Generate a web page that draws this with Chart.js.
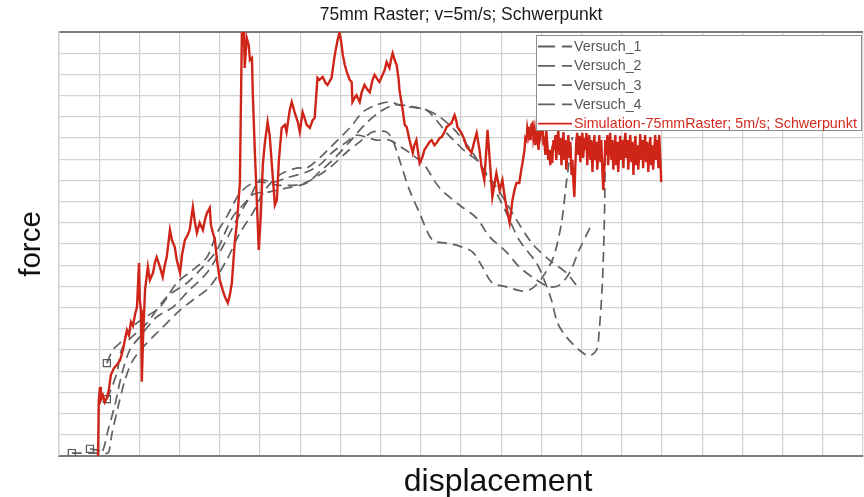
<!DOCTYPE html>
<html>
<head>
<meta charset="utf-8">
<script src="https://cdn.jsdelivr.net/npm/chart.js@4/dist/chart.umd.min.js"></script>
<style>
  html, body { margin: 0; padding: 0; background: #ffffff; }
  canvas { display: block; }
</style>
</head>
<body>
<canvas id="chart" width="864" height="497"></canvas>
<script>
// Texts
const chartTitle = '75mm Raster; v=5m/s; Schwerpunkt';
const xAxisTitle = 'displacement';
const yAxisTitle = 'force';
const seriesNames = ['Versuch_1', 'Versuch_2', 'Versuch_3', 'Versuch_4',
                     'Simulation-75mmRaster; 5m/s; Schwerpunkt'];

// Axis ranges (no tick labels are shown, only the grid)
const xRange = [0, 200];
const yRange = [0, 100];
const xStep = 10;
const yStep = 5;

// Test curves: [displacement, force]
const versuch1 = [[3.2,0.7],[8.9,0.7],[10.7,0.9],[12.2,6.1],[13.9,12.0],[15.7,19.6],[17.6,25.0],[20.1,28.1],[24.3,32.8],[28.3,35.1],[32.5,39.2],[36.8,43.2],[40.7,49.3],[44.2,55.7],[48.2,61.6],[52.4,62.3],[56.6,63.2],[61.6,64.4],[64.8,67.0],[68.6,70.3],[72.3,74.1],[76.0,78.1],[79.7,81.1],[83.5,82.8],[87.2,82.5],[91.4,81.6],[94.7,80.0],[98.4,76.9],[102.1,72.6],[107.1,65.1],[111.3,57.3],[114.5,50.9],[118.8,45.5],[120.7,41.5],[122.5,36.8],[124.0,31.4],[126.2,28.1],[129.4,25.0],[131.9,23.6],[133.7,25.0],[134.4,29.7],[135.2,41.5],[135.7,57.3],[135.9,74.5]];

const versuch2 = [[7.7,1.7],[10.2,1.2],[12.2,0.7],[13.2,5.4],[14.7,11.6],[16.4,17.9],[18.4,22.6],[21.9,26.7],[25.1,29.7],[29.3,33.7],[33.3,36.8],[37.5,39.9],[41.7,46.2],[45.0,52.6],[48.2,57.3],[51.2,62.7],[54.9,66.3],[59.1,67.9],[61.6,67.9],[64.8,70.3],[67.3,72.6],[70.6,75.7],[73.0,78.1],[75.5,81.1],[79.0,82.8],[82.2,83.5],[85.5,82.5],[88.9,82.1],[91.4,81.6],[93.9,79.2],[96.4,76.2],[98.9,73.8],[101.4,71.5],[103.9,69.8],[106.3,66.7],[108.8,63.4],[111.3,59.7],[113.8,55.7],[117.8,50.0],[122.0,46.2],[126.2,43.2],[128.7,40.3]];

const versuch3 = [[11.9,21.9],[13.4,25.0],[15.2,26.7],[19.4,31.4],[25.1,35.1],[29.3,40.8],[33.3,43.9],[36.8,46.9],[39.3,52.6],[41.7,56.4],[45.0,62.0],[48.2,64.4],[50.7,64.6],[54.2,63.9],[59.1,63.9],[61.6,64.6],[64.8,66.3],[68.1,68.6],[71.6,71.7],[74.8,74.1],[78.0,76.4],[81.5,76.4],[83.0,74.5],[84.7,69.8],[87.2,62.7],[89.7,57.3],[92.9,50.9],[96.4,50.2],[99.6,49.5],[102.9,48.1],[105.3,44.6],[107.8,40.8],[111.3,39.9],[115.3,38.9],[117.8,39.6],[120.3,42.2],[123.0,46.9],[125.0,55.0],[126.2,64.4],[127.7,75.2]];

const versuch4 = [[11.9,13.4],[13.2,16.3],[14.4,19.6],[15.9,25.7],[21.9,31.4],[26.8,37.5],[31.8,40.8],[35.8,44.6],[39.3,48.6],[43.2,56.4],[47.5,61.1],[49.9,65.1],[53.2,64.6],[56.6,65.6],[61.6,67.0],[64.8,68.6],[68.1,71.7],[71.6,74.1],[74.0,75.7],[79.0,74.5],[82.2,74.5],[85.5,72.6],[88.0,71.0],[90.9,68.6],[94.7,63.2],[99.6,59.2],[103.9,56.1],[107.1,51.7],[111.3,48.1],[114.5,44.6],[118.8,41.5],[122.0,39.9],[124.5,40.3],[127.0,43.2],[129.4,48.6],[132.7,55.0]];

// Simulation curve: [displacement, force]
const simulation = [[9.7,0.0],[9.9,13.2],[10.2,16.3],[10.4,13.2],[10.9,14.4],[11.4,12.7],[11.9,13.7],[12.4,15.6],[12.9,19.1],[13.7,20.8],[14.4,21.5],[15.2,22.6],[15.9,25.0],[16.4,27.4],[16.9,29.7],[17.4,28.5],[17.9,31.6],[18.4,30.7],[18.9,33.3],[19.4,35.1],[19.9,45.5],[20.1,36.8],[20.4,34.4],[20.6,17.5],[20.9,27.4],[21.4,39.2],[22.1,44.6],[22.6,41.5],[23.4,43.2],[23.9,45.8],[24.3,46.9],[25.1,44.6],[25.8,42.2],[26.3,45.0],[26.8,46.9],[27.6,53.3],[28.1,50.9],[28.8,49.3],[29.3,46.2],[30.1,43.2],[30.6,47.4],[31.3,50.9],[32.0,52.1],[32.5,53.3],[33.3,58.7],[33.8,55.2],[34.3,52.6],[35.0,55.0],[35.8,53.3],[36.3,55.7],[36.8,57.3],[37.5,58.5],[37.8,54.5],[38.3,52.6],[38.8,50.9],[39.3,46.2],[40.0,41.5],[40.7,39.2],[41.2,37.7],[42.0,36.1],[42.5,38.0],[43.0,40.8],[43.7,50.2],[44.2,54.5],[44.5,58.0],[45.0,64.4],[45.2,79.2],[45.5,100.0],[46.0,100.0],[46.2,91.5],[46.7,98.6],[47.2,96.9],[47.5,93.4],[48.0,93.9],[48.2,85.8],[48.7,72.2],[49.2,60.4],[49.7,48.6],[50.2,56.8],[50.7,68.6],[51.2,73.8],[51.9,78.8],[52.4,75.7],[53.2,65.6],[53.7,59.2],[54.2,60.4],[54.7,69.8],[55.4,77.4],[56.2,78.1],[56.6,76.4],[57.4,81.6],[57.9,83.5],[58.6,81.1],[59.4,78.8],[59.9,76.4],[60.6,81.1],[61.1,79.7],[61.6,78.1],[62.4,77.4],[63.1,79.2],[63.6,79.7],[64.3,89.2],[64.8,88.7],[65.6,89.4],[66.3,88.0],[66.8,87.5],[67.8,89.2],[68.6,94.6],[69.3,98.1],[69.8,100.0],[70.3,96.9],[70.6,94.6],[71.1,92.2],[71.6,90.6],[72.3,88.7],[72.8,88.2],[73.0,83.5],[73.5,84.4],[74.0,85.1],[74.8,83.5],[75.3,85.8],[76.0,87.5],[76.8,86.3],[77.3,85.8],[78.0,88.7],[78.5,89.9],[79.3,88.7],[79.7,88.2],[80.5,89.9],[81.0,91.0],[81.5,92.9],[82.2,91.5],[82.7,93.9],[83.0,95.0],[83.5,93.4],[84.0,92.2],[84.5,88.7],[84.7,86.3],[85.5,81.6],[86.0,78.1],[86.5,77.6],[87.2,74.5],[88.0,71.5],[88.4,73.3],[88.9,74.5],[89.7,69.1],[90.4,70.5],[90.9,72.2],[91.4,72.9],[92.2,74.1],[92.7,74.5],[93.4,73.3],[93.9,73.8],[94.7,75.0],[95.2,75.2],[95.9,76.4],[96.4,77.6],[97.1,78.1],[97.6,78.5],[98.4,80.4],[98.9,78.8],[99.1,77.6],[100.1,76.2],[100.9,74.5],[101.4,72.9],[102.1,72.2],[102.6,71.5],[103.4,74.5],[103.9,76.2],[104.6,72.2],[105.1,68.2],[105.8,65.1],[106.3,72.2],[106.6,76.9],[107.1,70.5],[107.8,61.1],[108.3,63.9],[108.8,66.7],[109.6,62.7],[110.3,65.1],[110.8,61.6],[111.3,58.7],[112.1,55.0],[112.5,58.0],[112.8,60.4],[113.3,62.7],[113.8,64.4],[114.5,64.4],[115.0,67.5],[115.3,69.1],[115.8,72.2],[116.0,75.0],[116.3,74.5],[116.5,77.4],[116.8,75.7],[117.0,77.6],[117.3,74.5],[117.5,78.1],[117.8,78.5],[118.0,75.0],[118.3,76.9],[118.5,73.3],[118.8,76.9],[119.0,75.2],[119.3,72.2],[119.5,77.4],[119.8,75.7],[120.0,78.1],[120.3,77.6],[120.5,74.1],[120.7,74.5],[121.0,71.0],[121.2,76.9],[121.5,73.3],[121.7,69.8],[122.0,72.2],[122.2,68.6],[122.5,71.0],[122.7,69.1],[123.0,74.5],[123.2,72.2],[123.5,75.7],[123.7,69.8],[124.0,74.5],[124.2,76.9],[124.5,71.0],[124.7,75.0],[125.0,68.6],[125.2,73.3],[125.5,76.4],[125.7,69.8],[126.0,74.5],[126.2,67.5],[126.5,72.2],[126.7,75.7],[127.0,70.3],[127.2,74.1],[127.5,66.3],[127.7,69.8],[128.0,63.9],[128.2,61.1],[128.4,67.5],[128.7,74.5],[128.9,76.2],[129.2,71.0],[129.4,75.5],[129.7,69.3],[129.9,74.5],[130.2,76.2],[130.4,70.3],[130.7,75.0],[130.9,72.2],[131.2,76.2],[131.4,68.6],[131.7,73.3],[131.9,75.7],[132.2,69.8],[132.4,74.5],[132.7,67.0],[132.9,72.2],[133.2,75.7],[133.4,69.8],[133.7,74.1],[133.9,67.5],[134.2,72.6],[134.4,75.7],[134.7,69.3],[134.9,74.5],[135.2,66.3],[135.4,62.7],[135.7,68.6],[135.9,74.5],[136.2,71.0],[136.4,75.7],[136.6,68.6],[136.9,73.3],[137.1,76.2],[137.4,69.8],[137.6,74.5],[137.9,67.5],[138.1,72.2],[138.4,75.7],[138.6,68.6],[138.9,74.1],[139.1,67.0],[139.4,72.2],[139.6,75.5],[139.9,69.8],[140.1,74.5],[140.4,67.9],[140.6,73.3],[140.9,76.2],[141.1,70.3],[141.4,74.5],[141.6,67.5],[141.9,72.2],[142.1,75.7],[142.4,69.3],[142.6,74.1],[142.9,66.3],[143.1,72.2],[143.4,75.5],[143.6,68.6],[143.9,73.3],[144.1,67.5],[144.4,72.2],[144.6,75.9],[144.8,69.8],[145.1,74.5],[145.3,67.9],[145.6,72.6],[145.8,75.7],[146.1,69.3],[146.3,74.1],[146.6,67.0],[146.8,72.2],[147.1,75.2],[147.3,68.6],[147.6,73.3],[147.8,67.5],[148.1,72.2],[148.3,75.7],[148.6,69.8],[148.8,74.5],[149.1,67.9],[149.3,75.7],[149.6,69.8],[149.8,64.6]];

// Styles
const greyColor = '#606060';
const redColor = '#cf2519';
const fontFamily = '"Liberation Sans", Arial, Helvetica, sans-serif';

const toPoints = arr => arr.map(p => ({ x: p[0], y: p[1] }));

function testDataset(name, arr) {
  return {
    label: name,
    data: toPoints(arr),
    borderColor: greyColor,
    borderWidth: 1.7,
    borderDash: [10, 6],
    tension: 0.3,
    fill: false,
    order: 1,
    pointStyle: 'rect',
    pointRadius: ctx => (ctx.dataIndex === 0 ? 5 : 0),
    pointBackgroundColor: 'rgba(255,255,255,0)',
    pointBorderColor: '#555555',
    pointBorderWidth: 1.2,
    legendDash: [17, 7],
    legendText: '#555555'
  };
}

const datasets = [
  testDataset(seriesNames[0], versuch1),
  testDataset(seriesNames[1], versuch2),
  testDataset(seriesNames[2], versuch3),
  testDataset(seriesNames[3], versuch4),
  {
    label: seriesNames[4],
    data: toPoints(simulation),
    borderColor: redColor,
    borderWidth: 2.4,
    tension: 0,
    fill: false,
    order: 0,
    pointRadius: 0,
    legendDash: [],
    legendText: '#d42a1e'
  }
];

// Framed legend inside the upper right corner of the plot
const boxLegend = {
  id: 'boxLegend',
  afterDatasetsDraw(chart) {
    const { ctx, chartArea } = chart;
    const w = 325, h = 95;
    const left = chartArea.right - w - 2;
    const top = chartArea.top + 3;
    ctx.save();
    ctx.fillStyle = '#ffffff';
    ctx.fillRect(left, top, w, h);
    ctx.strokeStyle = '#8c8c8c';
    ctx.lineWidth = 1;
    ctx.strokeRect(left + 0.5, top + 0.5, w, h);
    ctx.font = '14.3px ' + fontFamily;
    ctx.textBaseline = 'middle';
    ctx.textAlign = 'left';
    chart.data.datasets.forEach((ds, i) => {
      const y = top + 11.5 + i * 19.3;
      ctx.strokeStyle = ds.borderColor;
      ctx.lineWidth = 1.8;
      ctx.setLineDash(ds.legendDash);
      ctx.beginPath();
      ctx.moveTo(left + 2, y);
      ctx.lineTo(left + 36, y);
      ctx.stroke();
      ctx.setLineDash([]);
      ctx.fillStyle = ds.legendText;
      ctx.fillText(ds.label, left + 38, y + 0.5);
    });
    ctx.restore();
  }
};

// Large axis titles below and left of the plot
const axisTitles = {
  id: 'axisTitles',
  afterDraw(chart) {
    const { ctx, chartArea } = chart;
    ctx.save();
    ctx.fillStyle = '#111111';
    ctx.textAlign = 'center';
    ctx.textBaseline = 'alphabetic';
    ctx.font = '32px ' + fontFamily;
    ctx.fillText(xAxisTitle, (chartArea.left + chartArea.right) / 2 + 37, chartArea.bottom + 35);
    ctx.font = '29.5px ' + fontFamily;
    ctx.translate(chartArea.left - 19, (chartArea.top + chartArea.bottom) / 2);
    ctx.rotate(-Math.PI / 2);
    ctx.fillText(yAxisTitle, 0, 0);
    ctx.restore();
  }
};

new Chart(document.getElementById('chart'), {
  type: 'line',
  data: { datasets },
  plugins: [boxLegend, axisTitles],
  options: {
    responsive: false,
    animation: false,
    devicePixelRatio: 1,
    layout: { autoPadding: false, padding: { left: 59, right: 1, top: 0, bottom: 41 } },
    plugins: {
      legend: { display: false },
      tooltip: { enabled: false },
      title: {
        display: true,
        text: chartTitle,
        color: '#1a1a1a',
        font: { family: fontFamily, size: 17.5, weight: 'normal' },
        padding: { top: 4.5, bottom: 6.5 }
      }
    },
    scales: {
      x: {
        type: 'linear',
        min: xRange[0],
        max: xRange[1],
        ticks: { display: false, stepSize: xStep },
        grid: { color: '#d3d3d3', lineWidth: 1.3, drawTicks: false },
        border: { display: true, color: '#7a7a7a', width: 2 }
      },
      y: {
        type: 'linear',
        min: yRange[0],
        max: yRange[1],
        ticks: { display: false, stepSize: yStep },
        grid: {
          color: ctx => (ctx.tick && ctx.tick.value === yRange[1] ? '#7a7a7a' : '#d3d3d3'),
          lineWidth: ctx => (ctx.tick && ctx.tick.value === yRange[1] ? 2 : 1.3),
          drawTicks: false
        },
        border: { display: true, color: '#cfcfcf', width: 1.3 }
      }
    }
  }
});
</script>
</body>
</html>
